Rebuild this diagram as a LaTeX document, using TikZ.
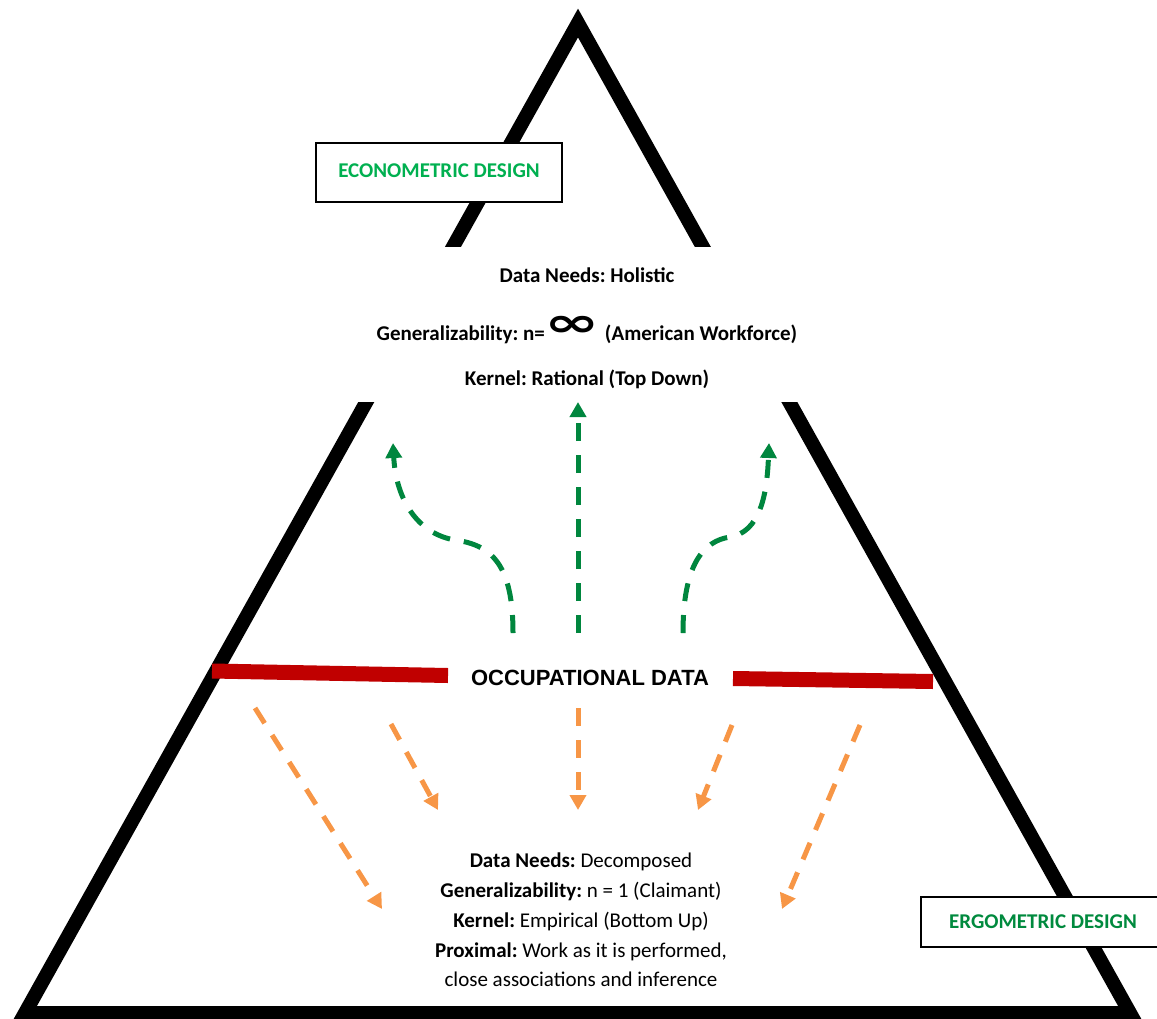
\documentclass[tikz,border=0pt]{standalone}
\usepackage{fontspec}
\setmainfont{Carlito}
\newfontfamily\occfont{Liberation Sans}
\newfontfamily\inffont{DejaVu Sans}
\usetikzlibrary{arrows.meta}
\definecolor{econgreen}{RGB}{0,176,80}
\definecolor{ergogreen}{RGB}{0,138,62}
\definecolor{upgreen}{RGB}{0,134,62}
\definecolor{downorange}{RGB}{247,150,70}
\definecolor{barred}{RGB}{192,0,0}
\frenchspacing

\begin{document}
\begin{tikzpicture}[>={Triangle[length=15bp,width=16bp]},line join=miter,
  design/.style={draw=black,line width=2bp,fill=white,inner sep=0pt,font=\bfseries\fontsize{21bp}{24bp}\selectfont},
  info/.style={font=\fontsize{21bp}{25bp}\selectfont,anchor=base},
  uparrow/.style={upgreen,line width=5bp,dash pattern=on 18bp off 14bp,->},
  downarrow/.style={downorange,line width=5bp,dash pattern=on 18bp off 14bp,->},
  databar/.style={barred,line width=15bp},
]
\useasboundingbox (0bp,0bp) rectangle (1157bp,-1019bp);
%%
\draw [line width=14bp] (578bp,-23bp) -- (1130bp,-1013bp) -- (25bp,-1013bp) -- cycle;
\fill [white] (330bp,-247bp) rectangle (830bp,-402bp);
%
\node (node_econ) at (439bp,-172.5bp) [design,minimum width=246bp,minimum height=59bp] {\raisebox{4bp}{\color{econgreen}ECONOMETRIC DESIGN}};
  \node (node_ergo) at (1043bp,-922bp) [design,minimum width=244bp,minimum height=50bp] {\color{ergogreen}ERGOMETRIC DESIGN};
  \node (node_needs) at (587bp,-282bp) [info] {\textbf{Data Needs: Holistic}};
  \node (node_gen) at (587bp,-340bp) [info] {\textbf{Generalizability: n=\raisebox{3.4bp}{\scalebox{1.33}[0.8]{\inffont\fontsize{50bp}{50bp}\selectfont ∞}} (American Workforce)}};
  \node (node_kernel) at (587bp,-385bp) [info] {\textbf{Kernel: Rational (Top Down)}};
  \node (node_occ) at (590bp,-678bp) [font=\occfont\bfseries\fontsize{22bp}{24bp}\selectfont] {OCCUPATIONAL DATA};
  \node (node_ergo_text) at (581bp,-920bp) [font=\fontsize{21bp}{29.7bp}\selectfont,align=center] {\textbf{Data Needs:} Decomposed\\
    \textbf{Generalizability:} n = 1 (Claimant)\\
    \textbf{Kernel:} Empirical (Bottom Up)\\
    \textbf{Proximal:} Work as it is performed,\\
    close associations and inference};
%
\coordinate (bar_l0) at (212bp,-671bp);
  \coordinate (bar_l1) at (448bp,-675.5bp);
  \coordinate (bar_r0) at (733bp,-678.5bp);
  \coordinate (bar_r1) at (933bp,-681.5bp);
  \draw [databar] (bar_l0) -- (bar_l1);
  \draw [databar] (bar_r0) -- (bar_r1);
%
\coordinate (up_l0) at (513bp,-633bp);
  \coordinate (up_l1) at (393bp,-443bp);
  \coordinate (up_m0) at (578bp,-633bp);
  \coordinate (up_m1) at (578bp,-402bp);
  \coordinate (up_r0) at (683bp,-633bp);
  \coordinate (up_r1) at (769bp,-443bp);
  \draw [uparrow] (up_l0) ..controls (513bp,-565bp) and (492bp,-545bp)  .. (455bp,-540bp) .. controls (418bp,-534bp) and (396bp,-500bp)  .. (up_l1);
  \draw [uparrow] (up_m0) -- (up_m1);
  \draw [uparrow] (up_r0) ..controls (683bp,-565bp) and (703bp,-541bp)  .. (730bp,-537bp) .. controls (760bp,-532bp) and (767bp,-495bp)  .. (up_r1);
%
\coordinate (dn_a0) at (255bp,-708bp);
  \coordinate (dn_a1) at (382bp,-909bp);
  \coordinate (dn_b0) at (391bp,-724bp);
  \coordinate (dn_b1) at (438bp,-810bp);
  \coordinate (dn_c0) at (578bp,-708bp);
  \coordinate (dn_c1) at (578bp,-810bp);
  \coordinate (dn_d0) at (732bp,-725bp);
  \coordinate (dn_d1) at (698bp,-810bp);
  \coordinate (dn_e0) at (860bp,-725bp);
  \coordinate (dn_e1) at (782bp,-909bp);
  \draw [downarrow] (dn_a0) -- (dn_a1);
  \draw [downarrow] (dn_b0) -- (dn_b1);
  \draw [downarrow] (dn_c0) -- (dn_c1);
  \draw [downarrow] (dn_d0) -- (dn_d1);
  \draw [downarrow] (dn_e0) -- (dn_e1);
%
\end{tikzpicture}
\end{document}
